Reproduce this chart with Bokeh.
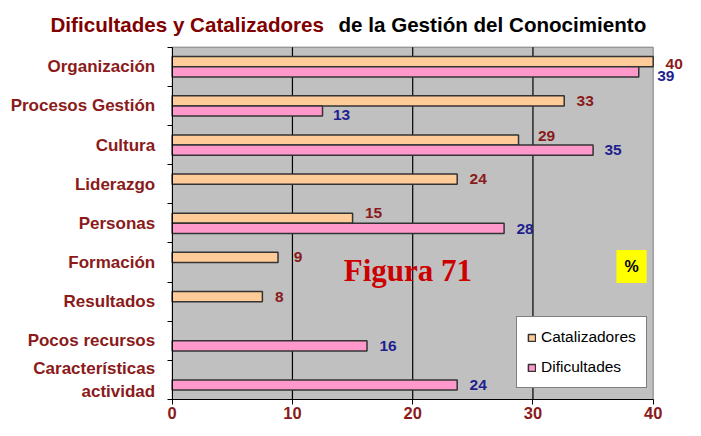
from bokeh.plotting import figure
from bokeh.models import (ColumnDataSource, FixedTicker, Range1d, Label, LabelSet,
                          Legend, LegendItem)
from bokeh.core.properties import value
from bokeh.embed import file_html
from bokeh.resources import INLINE

# ---------------- data ----------------
categories = ["Organización", "Procesos Gestión", "Cultura", "Liderazgo", "Personas",
              "Formación", "Resultados", "Pocos recursos", "Características\nactividad"]
catalizadores = [40.0, 32.6, 28.8, 23.7, 15.0, 8.8, 7.5, None, None]
dificultades = [38.8, 12.5, 35.0, None, 27.6, None, None, 16.2, 23.7]
cat_text = ["40", "33", "29", "24", "15", "9", "8", "", ""]
dif_text = ["39", "13", "35", "", "28", "", "", "16", "24"]
x_ticks = [0, 10, 20, 30, 40]
series_names = ["Catalizadores", "Dificultades"]
title_parts = ["Dificultades y Catalizadores", "de la Gestión del Conocimiento"]

# ---------------- style / layout ----------------
W, H = 685, 420
ORANGE = "#FFCC99"
PINK = "#FF99CC"
DARKRED = "#8B1A1A"
NAVY = "#1F1F8F"
FONT = "Liberation Sans"
# pixel placement of the plotting area inside the canvas
PX_LEFT, PX_RIGHT, PX_TOP, PX_BOTTOM = 171.7, 652.7, 46.7, 399.0
# label nudges in pixels (right, up)
cat_dx = [21, 21, 28, 21, 21, 20, 17, 0, 0]
cat_dy = [-2, 0, 4, 0, 5, 0, 0, 0, 0]
dif_dx = [27, 19, 20, 0, 21, 0, 0, 21, 21]
dif_dy = [-4, -4, 0, 0, -1, 0, 0, 0, 0]

n = len(categories)
xmin, xmax = x_ticks[0], x_ticks[-1]
centers = [n - i - 0.5 for i in range(n)]
bounds = [float(i) for i in range(n + 1)]
bar_h = 0.26

sx = (PX_RIGHT - PX_LEFT) / (xmax - xmin)
sy = (PX_BOTTOM - PX_TOP) / n
x_range = Range1d(xmin - PX_LEFT / sx, xmax + (W - PX_RIGHT) / sx)
y_range = Range1d(0 - (H - PX_BOTTOM) / sy, n + PX_TOP / sy)


def build(vals, texts, dx, dy, shift):
    d = dict(x=[], y=[], t=[], dx=[], dy=[])
    for v, t, c, a, b in zip(vals, texts, centers, dx, dy):
        if v is None:
            continue
        d["x"].append(v)
        d["y"].append(c + shift)
        d["t"].append(t)
        d["dx"].append(a)
        d["dy"].append(b)
    return ColumnDataSource(d)


src_cat = build(catalizadores, cat_text, cat_dx, cat_dy, bar_h / 2)
src_dif = build(dificultades, dif_text, dif_dx, dif_dy, -bar_h / 2)

p = figure(width=W, height=H, output_backend="svg", toolbar_location=None,
           x_range=x_range, y_range=y_range,
           min_border_left=0, min_border_right=0, min_border_top=0,
           min_border_bottom=0)
p.background_fill_color = "white"
p.border_fill_color = "white"
p.outline_line_color = None
p.xgrid.grid_line_color = None
p.ygrid.grid_line_color = None

# plotting area
p.quad(left=[xmin], right=[xmax], bottom=[0], top=[n], fill_color="#C0C0C0",
       line_color="#7F7F7F", line_width=1)
inner = x_ticks[1:-1]
p.segment(x0=inner, x1=inner, y0=[0] * len(inner), y1=[n] * len(inner),
          line_color="black", line_width=1.2)

r_cat = p.hbar(y="y", right="x", left=0, height=bar_h, source=src_cat,
               fill_color=ORANGE, line_color="#333333", line_width=1.5)
r_dif = p.hbar(y="y", right="x", left=0, height=bar_h, source=src_dif,
               fill_color=PINK, line_color="#333333", line_width=1.5)

for src, col in ((src_cat, DARKRED), (src_dif, NAVY)):
    p.add_layout(LabelSet(x="x", y="y", text="t", source=src, x_offset="dx",
                          y_offset="dy", text_align="center", text_baseline="middle",
                          text_color=col, text_font=value(FONT),
                          text_font_style="bold", text_font_size="15.5px"))

# axes (drawn at the data origin, taking no side-panel space)
xa = p.xaxis[0]
xa.fixed_location = 0
xa.bounds = (xmin, xmax)
xa.ticker = FixedTicker(ticks=x_ticks)
xa.axis_line_color = "black"
xa.major_tick_line_color = "black"
xa.major_tick_out = 5
xa.major_tick_in = 0
xa.minor_tick_line_color = None
xa.major_label_standoff = 2
xa.major_label_text_color = DARKRED
xa.major_label_text_font = FONT
xa.major_label_text_font_style = "bold"
xa.major_label_text_font_size = "16.5px"

ya = p.yaxis[0]
ya.fixed_location = 0
ya.bounds = (0, n)
ya.ticker = FixedTicker(ticks=centers, minor_ticks=bounds)
ya.major_label_overrides = {c: lab for c, lab in zip(centers, categories)}
ya.axis_line_color = "black"
ya.major_tick_out = 0
ya.major_tick_in = 0
ya.minor_tick_out = 5
ya.minor_tick_in = 0
ya.minor_tick_line_color = "black"
ya.major_label_standoff = 12
ya.major_label_text_color = DARKRED
ya.major_label_text_font = FONT
ya.major_label_text_font_style = "bold"
ya.major_label_text_font_size = "17px"
ya.major_label_text_align = "right"

legend = Legend(items=[LegendItem(label=series_names[0], renderers=[r_cat]),
                       LegendItem(label=series_names[1], renderers=[r_dif])],
                location=(516, 32), orientation="vertical",
                glyph_width=9, glyph_height=9, label_height=20, spacing=10,
                padding=10, margin=0, label_standoff=5,
                label_text_font=FONT, label_text_font_size="15.5px",
                label_text_color="black",
                border_line_color="black", border_line_width=1,
                background_fill_color="white", background_fill_alpha=1)
p.add_layout(legend)

# two-colour title
p.add_layout(Label(x=50, y=H - 24, x_units="screen", y_units="screen",
                   text=title_parts[0], text_align="left", text_baseline="middle",
                   text_color="#800000", text_font=FONT, text_font_style="bold",
                   text_font_size="20.6px"))
p.add_layout(Label(x=338, y=H - 24, x_units="screen", y_units="screen",
                   text=title_parts[1], text_align="left", text_baseline="middle",
                   text_color="black", text_font=FONT, text_font_style="bold",
                   text_font_size="20.6px"))

p.add_layout(Label(x=19.6, y=3.29, text="Figura 71", text_align="center",
                   text_baseline="middle", text_color="#CC0000",
                   text_font="Liberation Serif", text_font_style="bold",
                   text_font_size="31px"))
p.add_layout(Label(x=38.2, y=3.4, text="%", text_align="center",
                   text_baseline="middle", text_color="black",
                   text_font=FONT, text_font_style="bold", text_font_size="16px",
                   background_fill_color="#FFFF00", padding=8))

open("out.html", "w").write(file_html(p, INLINE))
